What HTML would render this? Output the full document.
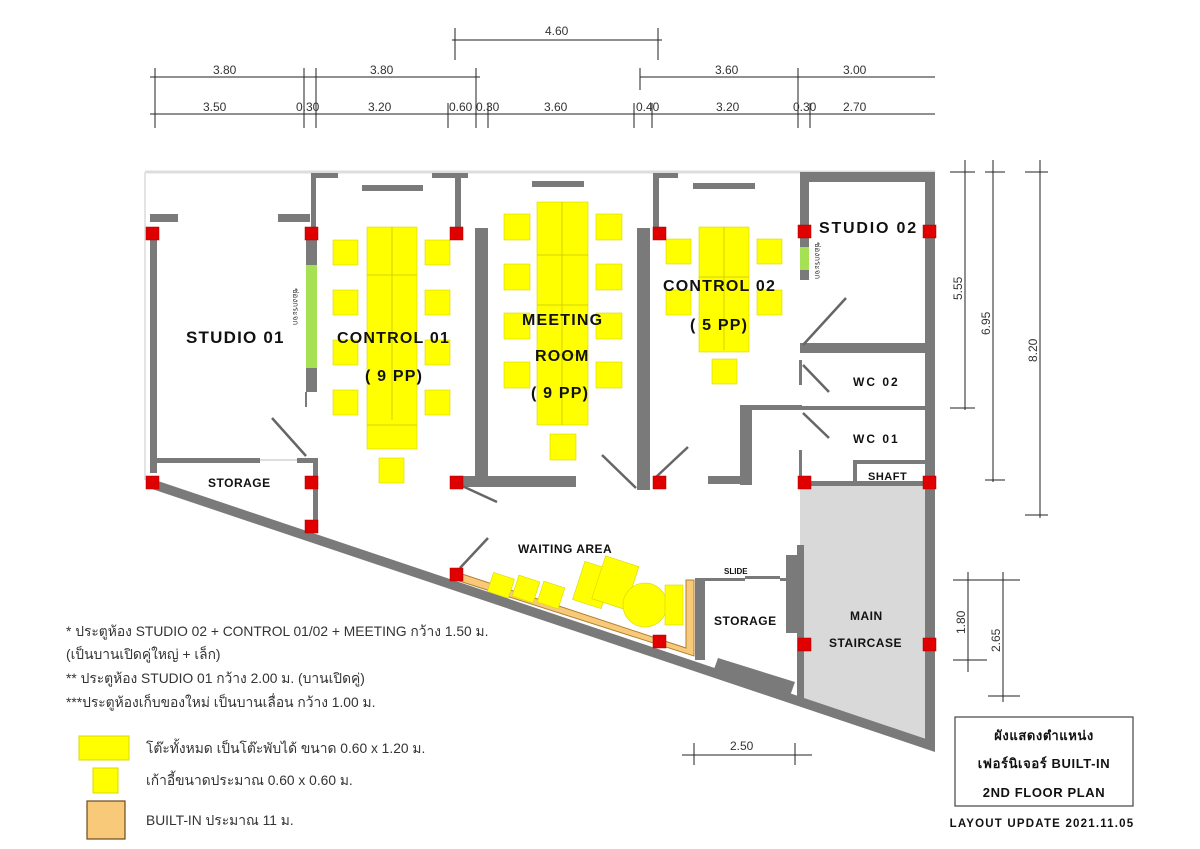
<!DOCTYPE html>
<html><head><meta charset="utf-8"><style>
html,body{margin:0;padding:0;background:#fff;}
svg{display:block;}
text{font-family:"Liberation Sans","Noto Sans CJK SC",sans-serif;}
.b{font-weight:bold;fill:#111;}
.d{font-size:12px;fill:#333;}
</style></head><body>
<svg width="1200" height="849" viewBox="0 0 1200 849" xmlns="http://www.w3.org/2000/svg">
<line x1="145" y1="172" x2="935" y2="172" stroke="#ddd" stroke-width="3"/>
<line x1="145" y1="172" x2="145" y2="480" stroke="#e4e4e4" stroke-width="2"/>
<polygon points="800,485 932,485 932,745 800,702" fill="#d9d9d9"/>
<g fill="#7a7a7a">
<rect x="150" y="228" width="7" height="245"/>
<rect x="150" y="214" width="28" height="8"/>
<rect x="278" y="214" width="32" height="8"/>
<rect x="150" y="458" width="110" height="5"/>
<rect x="297" y="458" width="20" height="5"/>
<rect x="306" y="228" width="11" height="37"/>
<rect x="306" y="368" width="11" height="24"/>
<rect x="305" y="392" width="2" height="15"/>
<rect x="313" y="458" width="5" height="70"/>
<rect x="311" y="173" width="5" height="60"/>
<rect x="311" y="173" width="27" height="5"/>
<rect x="432" y="173" width="36" height="5"/>
<rect x="455" y="173" width="6" height="60"/>
<rect x="362" y="185" width="61" height="6"/>
<rect x="475" y="228" width="13" height="258"/>
<rect x="456" y="476" width="120" height="11"/>
<rect x="532" y="181" width="52" height="6"/>
<rect x="637" y="228" width="13" height="262"/>
<rect x="653" y="173" width="6" height="60"/>
<rect x="653" y="173" width="25" height="5"/>
<rect x="693" y="183" width="62" height="6"/>
<rect x="740" y="405" width="12" height="80"/>
<rect x="740" y="405" width="62" height="5"/>
<rect x="708" y="476" width="40" height="8"/>
<rect x="800" y="172" width="135" height="10"/>
<rect x="800" y="172" width="9" height="75"/>
<rect x="800" y="270" width="9" height="10"/>
<rect x="925" y="172" width="10" height="575"/>
<rect x="800" y="343" width="133" height="10"/>
<rect x="800" y="406" width="133" height="4"/>
<rect x="853" y="460" width="4" height="25"/>
<rect x="853" y="460" width="80" height="4"/>
<rect x="800" y="481" width="133" height="5"/>
<rect x="799" y="360" width="3" height="25"/>
<rect x="799" y="450" width="3" height="32"/>
<rect x="797" y="545" width="7" height="155"/>
<rect x="786" y="555" width="14" height="78"/>
<rect x="695" y="580" width="10" height="80"/>
<rect x="695" y="578" width="50" height="3"/>
<rect x="745" y="576" width="35" height="3"/>
<rect x="780" y="578" width="20" height="3"/>
</g>
<polygon points="718,658 795,682 790,696 713,672" fill="#7a7a7a"/>
<polygon points="152,479 935,742 935,752 152,489" fill="#7a7a7a"/>
<rect x="306" y="265" width="11" height="103" fill="#a6e055"/>
<rect x="800" y="247" width="9" height="23" fill="#a6e055"/>
<polygon points="456,572 686,648 686,580 694,580 694,656 456,580" fill="#f7c979" stroke="#b08030" stroke-width="1"/>
<g fill="#ffff00" stroke="#d8d800" stroke-width="0.6">
<rect x="367" y="227" width="50" height="222"/>
<rect x="333" y="240" width="25" height="25"/><rect x="425" y="240" width="25" height="25"/>
<rect x="333" y="290" width="25" height="25"/><rect x="425" y="290" width="25" height="25"/>
<rect x="333" y="340" width="25" height="25"/><rect x="425" y="340" width="25" height="25"/>
<rect x="333" y="390" width="25" height="25"/><rect x="425" y="390" width="25" height="25"/>
<rect x="379" y="458" width="25" height="25"/>
<rect x="537" y="202" width="51" height="223"/>
<rect x="504" y="214" width="26" height="26"/><rect x="596" y="214" width="26" height="26"/>
<rect x="504" y="264" width="26" height="26"/><rect x="596" y="264" width="26" height="26"/>
<rect x="504" y="313" width="26" height="26"/><rect x="596" y="313" width="26" height="26"/>
<rect x="504" y="362" width="26" height="26"/><rect x="596" y="362" width="26" height="26"/>
<rect x="550" y="434" width="26" height="26"/>
<rect x="699" y="227" width="50" height="125"/>
<rect x="666" y="239" width="25" height="25"/><rect x="757" y="239" width="25" height="25"/>
<rect x="666" y="290" width="25" height="25"/><rect x="757" y="290" width="25" height="25"/>
<rect x="712" y="359" width="25" height="25"/>
<rect x="490" y="575" width="22" height="20" transform="rotate(18 500 585)"/>
<rect x="515" y="578" width="22" height="22" transform="rotate(18 526 589)"/>
<rect x="540" y="584" width="22" height="22" transform="rotate(18 551 595)"/>
<rect x="578" y="565" width="30" height="40" transform="rotate(18 593 585)"/>
<rect x="598" y="560" width="35" height="45" transform="rotate(18 615 582)"/>
<circle cx="645" cy="605" r="22"/>
<rect x="665" y="585" width="18" height="40"/>
</g>
<g stroke="#c8c800" stroke-width="0.8">
<line x1="392" y1="227" x2="392" y2="420"/><line x1="367" y1="275" x2="417" y2="275"/><line x1="367" y1="425" x2="417" y2="425"/>
<line x1="562" y1="202" x2="562" y2="425"/><line x1="537" y1="255" x2="588" y2="255"/><line x1="537" y1="305" x2="588" y2="305"/><line x1="537" y1="355" x2="588" y2="355"/>
<line x1="724" y1="227" x2="724" y2="350"/><line x1="699" y1="277" x2="749" y2="277"/>
</g>
<g stroke="#666" stroke-width="2.5">
<line x1="272" y1="418" x2="306" y2="456"/>
<line x1="460" y1="485" x2="497" y2="502"/>
<line x1="460" y1="568" x2="488" y2="538"/>
<line x1="602" y1="455" x2="636" y2="488"/>
<line x1="655" y1="478" x2="688" y2="447"/>
<line x1="803" y1="345" x2="846" y2="298"/>
<line x1="803" y1="365" x2="829" y2="392"/>
<line x1="803" y1="413" x2="829" y2="438"/>
</g>
<line x1="260" y1="460" x2="297" y2="460" stroke="#bbb" stroke-width="1"/>
<g fill="#e00000" stroke="#a00" stroke-width="0.5">
<rect x="146" y="227" width="13" height="13"/><rect x="305" y="227" width="13" height="13"/><rect x="450" y="227" width="13" height="13"/><rect x="653" y="227" width="13" height="13"/><rect x="798" y="225" width="13" height="13"/><rect x="923" y="225" width="13" height="13"/>
<rect x="146" y="476" width="13" height="13"/><rect x="305" y="476" width="13" height="13"/><rect x="450" y="476" width="13" height="13"/><rect x="653" y="476" width="13" height="13"/><rect x="798" y="476" width="13" height="13"/><rect x="923" y="476" width="13" height="13"/>
<rect x="305" y="520" width="13" height="13"/><rect x="450" y="568" width="13" height="13"/><rect x="653" y="635" width="13" height="13"/><rect x="798" y="638" width="13" height="13"/><rect x="923" y="638" width="13" height="13"/>
</g>
<g class="b" letter-spacing="1.2">
<text x="186" y="343" font-size="17">STUDIO 01</text>
<text x="337" y="343" font-size="16">CONTROL 01</text>
<text x="365" y="381" font-size="16">( 9 PP)</text>
<text x="522" y="325" font-size="16">MEETING</text>
<text x="535" y="361" font-size="16">ROOM</text>
<text x="531" y="398" font-size="16">( 9 PP)</text>
<text x="663" y="291" font-size="16">CONTROL 02</text>
<text x="690" y="330" font-size="16">( 5 PP)</text>
<text x="819" y="233" font-size="16" letter-spacing="1.8">STUDIO 02</text>
<text x="853" y="386" font-size="12" letter-spacing="2">WC 02</text>
<text x="853" y="443" font-size="12" letter-spacing="2">WC 01</text>
<text x="868" y="480" font-size="11" letter-spacing="0.5">SHAFT</text>
<text x="208" y="487" font-size="12" letter-spacing="0.5">STORAGE</text>
<text x="518" y="553" font-size="12" letter-spacing="0.5">WAITING AREA</text>
<text x="724" y="574" font-size="8" letter-spacing="0">SLIDE</text>
<text x="714" y="625" font-size="12" letter-spacing="0.5">STORAGE</text>
<text x="850" y="620" font-size="12" letter-spacing="0.5">MAIN</text>
<text x="829" y="647" font-size="12" letter-spacing="0.5">STAIRCASE</text>
</g>
<text font-size="8" fill="#333" transform="translate(293,288) rotate(90)">ช่องกระจก</text>
<text font-size="8" fill="#333" transform="translate(815,242) rotate(90)">ช่องกระจก</text>
<g stroke="#222" stroke-width="1">
<line x1="452" y1="40" x2="662" y2="40"/><line x1="455" y1="28" x2="455" y2="60"/><line x1="658" y1="28" x2="658" y2="60"/>
<line x1="150" y1="77" x2="480" y2="77"/><line x1="640" y1="77" x2="935" y2="77"/>
<line x1="150" y1="114" x2="935" y2="114"/>
<line x1="155" y1="68" x2="155" y2="128"/><line x1="304" y1="68" x2="304" y2="128"/><line x1="316" y1="68" x2="316" y2="128"/><line x1="476" y1="68" x2="476" y2="128"/>
<line x1="448" y1="103" x2="448" y2="128"/><line x1="488" y1="103" x2="488" y2="128"/><line x1="634" y1="103" x2="634" y2="128"/><line x1="652" y1="103" x2="652" y2="128"/>
<line x1="640" y1="68" x2="640" y2="90"/><line x1="798" y1="68" x2="798" y2="128"/><line x1="810" y1="103" x2="810" y2="128"/>
<line x1="950" y1="172" x2="975" y2="172"/><line x1="965" y1="160" x2="965" y2="410"/><line x1="950" y1="408" x2="975" y2="408"/>
<line x1="985" y1="172" x2="1005" y2="172"/><line x1="993" y1="160" x2="993" y2="482"/><line x1="985" y1="480" x2="1005" y2="480"/>
<line x1="1025" y1="172" x2="1048" y2="172"/><line x1="1040" y1="160" x2="1040" y2="518"/><line x1="1025" y1="515" x2="1048" y2="515"/>
<line x1="953" y1="580" x2="1020" y2="580"/><line x1="968" y1="572" x2="968" y2="672"/><line x1="953" y1="660" x2="987" y2="660"/>
<line x1="1003" y1="572" x2="1003" y2="702"/><line x1="988" y1="696" x2="1020" y2="696"/>
<line x1="682" y1="755" x2="812" y2="755"/><line x1="694" y1="743" x2="694" y2="765"/><line x1="795" y1="743" x2="795" y2="765"/>
</g>
<g class="d">
<text x="545" y="35">4.60</text>
<text x="213" y="74">3.80</text><text x="370" y="74">3.80</text><text x="715" y="74">3.60</text><text x="843" y="74">3.00</text>
<text x="203" y="111">3.50</text><text x="296" y="111">0.30</text><text x="368" y="111">3.20</text><text x="449" y="111">0.60</text><text x="476" y="111">0.30</text><text x="544" y="111">3.60</text><text x="636" y="111">0.40</text><text x="716" y="111">3.20</text><text x="793" y="111">0.30</text><text x="843" y="111">2.70</text>
<text x="730" y="750">2.50</text>
<text transform="translate(962,300) rotate(-90)">5.55</text>
<text transform="translate(990,335) rotate(-90)">6.95</text>
<text transform="translate(1037,362) rotate(-90)">8.20</text>
<text transform="translate(965,634) rotate(-90)">1.80</text>
<text transform="translate(1000,652) rotate(-90)">2.65</text>
</g>
<rect x="955" y="717" width="178" height="89" fill="none" stroke="#444" stroke-width="1.2"/>
<g class="b" font-size="13" text-anchor="middle" letter-spacing="0.6">
<text x="1044" y="740">ผังแสดงตำแหน่ง</text>
<text x="1044" y="768">เฟอร์นิเจอร์ BUILT-IN</text>
<text x="1044" y="797">2ND FLOOR PLAN</text>
<text x="1042" y="827" font-size="11.5" letter-spacing="1.2">LAYOUT UPDATE 2021.11.05</text>
</g>
<g font-size="13.8" fill="#333">
<text x="66" y="636">*   ประตูห้อง STUDIO 02 + CONTROL 01/02 + MEETING กว้าง 1.50 ม.</text>
<text x="66" y="659">(เป็นบานเปิดคู่ใหญ่ + เล็ก)</text>
<text x="66" y="683">** ประตูห้อง STUDIO 01  กว้าง 2.00 ม. (บานเปิดคู่)</text>
<text x="66" y="707">***ประตูห้องเก็บของใหม่ เป็นบานเลื่อน กว้าง 1.00 ม.</text>
<text x="146" y="753">โต๊ะทั้งหมด เป็นโต๊ะพับได้ ขนาด 0.60 x 1.20 ม.</text>
<text x="146" y="785">เก้าอี้ขนาดประมาณ 0.60 x 0.60 ม.</text>
<text x="146" y="825">BUILT-IN ประมาณ 11 ม.</text>
</g>
<rect x="79" y="736" width="50" height="24" fill="#ffff00" stroke="#d8d800"/>
<rect x="93" y="768" width="25" height="25" fill="#ffff00" stroke="#d8d800"/>
<rect x="87" y="801" width="38" height="38" fill="#f7c979" stroke="#6b4a1a" stroke-width="1.2"/>
</svg>
</body></html>
